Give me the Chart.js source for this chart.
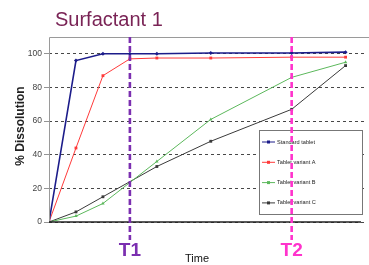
<!DOCTYPE html>
<html>
<head>
<meta charset="utf-8">
<script src="https://cdn.jsdelivr.net/npm/chart.js@4.4.1/dist/chart.umd.min.js"></script>
<style>
  body { margin: 0; background: #fff; overflow: hidden; }
</style>
</head>
<body>
<canvas id="chart" width="369" height="265"></canvas>
<script>
const times = [0, 5, 10, 15, 20, 30, 45, 55];
const standardTablet = [0, 96, 100, 100, 100, 100.5, 100.5, 101];
const variantA = [0, 44, 87, 97, 97.5, 97.5, 98, 98];
const variantB = [0, 3.5, 11, null, 36, 61, 86, 95];
const variantC = [0, 6, 15, null, 33, 48, 67, 93];
const seriesNames = ["Standard tablet", "Tablet variant A", "Tablet variant B", "Tablet variant C"];
const markerTimes = [15, 45];
const markerLabels = ["T1", "T2"];
const yTicks = [0, 20, 40, 60, 80, 100];

function toPoints(values) {
  return values.map((v, i) => ({ x: times[i], y: v }));
}

const colors = ["#1c1c8a", "#ff3a3a", "#5cb85c", "#3a3a3a"];
const markerColors = ["#7b2fb0", "#ff33cc"];

// frame, T lines, legend box and the loose texts
const decorations = {
  id: "decorations",
  afterDatasetsDraw(chart) {
    const { ctx, chartArea: a, scales } = chart;
    ctx.save();

    // plot frame
    ctx.strokeStyle = "#9a9a9a";
    ctx.lineWidth = 1;
    ctx.beginPath();
    ctx.moveTo(a.left + 0.5, a.bottom);
    ctx.lineTo(a.left + 0.5, a.top + 0.5);
    ctx.lineTo(369, a.top + 0.5);
    ctx.stroke();
    ctx.strokeStyle = "#222";
    ctx.lineWidth = 1.6;
    ctx.beginPath();
    ctx.moveTo(a.left, a.bottom);
    ctx.lineTo(361, a.bottom);
    ctx.stroke();

    // legend box
    const lx = 259, ly = 130, lw = 103, lh = 84;
    ctx.fillStyle = "#fff";
    ctx.fillRect(lx, ly, lw, lh);
    ctx.strokeStyle = "#777";
    ctx.lineWidth = 1;
    ctx.strokeRect(lx + 0.5, ly + 0.5, lw, lh);
    ctx.font = "5.6px Arial, 'Liberation Sans', sans-serif";
    ctx.textBaseline = "middle";
    chart.data.datasets.forEach((ds, i) => {
      const y = ly + 12 + i * 20.3;
      ctx.strokeStyle = ds.borderColor;
      ctx.lineWidth = 1;
      ctx.beginPath();
      ctx.moveTo(lx + 3, y);
      ctx.lineTo(lx + 16, y);
      ctx.stroke();
      ctx.fillStyle = ds.borderColor;
      ctx.fillRect(lx + 8, y - 1.5, 3, 3);
      ctx.fillStyle = "#222";
      ctx.fillText(ds.label, lx + 18, y);
    });

    // T1 / T2 dashed lines and labels
    markerTimes.forEach((t, i) => {
      const x = scales.x.getPixelForValue(t);
      ctx.strokeStyle = markerColors[i];
      ctx.lineWidth = 2.6;
      ctx.setLineDash([6, 3]);
      ctx.beginPath();
      ctx.moveTo(x, a.top);
      ctx.lineTo(x, 240);
      ctx.stroke();
      ctx.setLineDash([]);
      ctx.fillStyle = markerColors[i];
      ctx.font = "bold 19px Arial, 'Liberation Sans', sans-serif";
      ctx.textAlign = "center";
      ctx.textBaseline = "alphabetic";
      ctx.fillText(markerLabels[i], x, 256);
    });

    // title
    ctx.textAlign = "left";
    ctx.fillStyle = "#7a2456";
    ctx.font = "20px Arial, 'Liberation Sans', sans-serif";
    ctx.fillText("Surfactant 1", 55, 26);

    // axis titles
    ctx.fillStyle = "#111";
    ctx.font = "11px Arial, 'Liberation Sans', sans-serif";
    ctx.textAlign = "center";
    ctx.fillText("Time", 197, 262);

    ctx.save();
    ctx.translate(24, 126);
    ctx.rotate(-Math.PI / 2);
    ctx.font = "bold 12px Arial, 'Liberation Sans', sans-serif";
    ctx.fillStyle = "#222";
    ctx.fillText("% Dissolution", 0, 0);
    ctx.restore();

    ctx.restore();
  }
};

const seriesValues = [standardTablet, variantA, variantB, variantC];
const pointStyles = ["rectRot", "rect", "triangle", "rect"];

new Chart(document.getElementById("chart").getContext("2d"), {
  type: "line",
  data: {
    datasets: seriesValues.map((vals, i) => ({
      label: seriesNames[i],
      data: toPoints(vals),
      borderColor: colors[i],
      backgroundColor: colors[i],
      borderWidth: i === 0 ? 1.6 : 1,
      pointStyle: pointStyles[i],
      pointRadius: 2,
      pointBorderWidth: 0,
      spanGaps: true,
      tension: 0,
    })),
  },
  options: {
    responsive: false,
    animation: false,
    layout: { padding: { top: 37, bottom: 43, left: 0, right: 0 } },
    scales: {
      x: {
        type: "linear",
        min: 0,
        max: 58.6,
        display: false,
      },
      y: {
        type: "linear",
        min: 0,
        max: 110,
        afterBuildTicks(scale) {
          scale.ticks = yTicks.map((v) => ({ value: v }));
        },
        afterFit(scale) {
          scale.width = 49;
        },
        ticks: {
          color: "#444",
          padding: 2,
          font: { size: 8.5, family: "Arial, 'Liberation Sans', sans-serif" },
        },
        grid: {
          color: "#333",
          lineWidth: 0.9,
          tickLength: 5,
          tickColor: "#888",
        },
        border: { display: false, dash: [3, 3] },
      },
    },
    plugins: {
      legend: { display: false },
      tooltip: { enabled: false },
    },
  },
  plugins: [decorations],
});
</script>
</body>
</html>
